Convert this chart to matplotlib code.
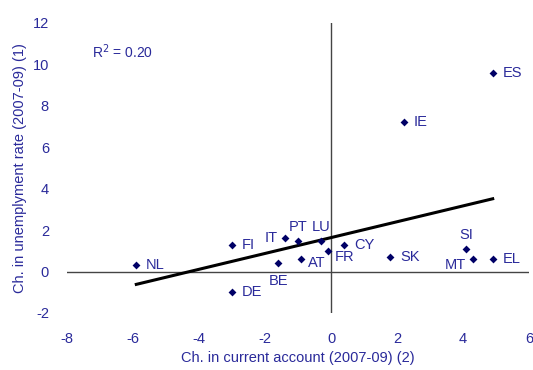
import numpy as np
import matplotlib
matplotlib.use("Agg")
import matplotlib.pyplot as plt
from matplotlib import font_manager

# Ch. in current account (x) and ch. in unemployment rate (y), 2007-09
countries = ["NL", "FI", "DE", "IT", "PT", "LU", "BE", "AT", "FR",
             "CY", "SK", "SI", "MT", "EL", "ES", "IE"]
current_account = [-5.9, -3.0, -3.0, -1.4, -1.0, -0.3, -1.6, -0.9, -0.1,
                   0.4, 1.8, 4.1, 4.3, 4.9, 4.9, 2.2]
unemployment = [0.3, 1.3, -1.0, 1.6, 1.5, 1.5, 0.4, 0.6, 1.0,
                1.3, 0.7, 1.1, 0.6, 0.6, 9.6, 7.2]
x_ticks = [-8, -6, -4, -2, 0, 2, 4, 6]
y_ticks = [-2, 0, 2, 4, 6, 8, 10, 12]

# label placement (offset in points, horizontal alignment, vertical alignment)
label_pos = {
    "IT": (-5, 0, "right", "center"),
    "PT": (0, 10, "center", "center"),
    "LU": (0, 10, "center", "center"),
    "BE": (0, -13, "center", "center"),
    "AT": (5, -3, "left", "center"),
    "FR": (5, -4.5, "left", "center"),
    "SI": (0, 10, "center", "center"),
    "MT": (-5, -4, "right", "center"),
}

names = [f.name for f in font_manager.fontManager.ttflist]
family = "Liberation Sans Narrow" if "Liberation Sans Narrow" in names else "Liberation Sans"
plt.rcParams["font.family"] = [family, "DejaVu Sans"]
plt.rcParams["axes.unicode_minus"] = False

text_col = "#2a2a9a"
marker_col = "#000066"
fs = 10.5

fig = plt.figure(figsize=(5.33, 3.70), dpi=100)
ax = fig.add_axes([67 / 533, 1 - 313 / 370, 462 / 533, 290 / 370])

ax.axhline(0, color="#444444", lw=1.0, zorder=1)
ax.axvline(0, color="#444444", lw=1.0, zorder=1)

ax.scatter(current_account, unemployment, marker="D", s=16, color=marker_col,
           linewidths=0, zorder=3)

x = np.array(current_account)
y = np.array(unemployment)
slope, intercept = np.polyfit(x, y, 1)
xs = np.array([x.min(), x.max()])
ax.plot(xs, slope * xs + intercept, color="black", lw=2.2, zorder=2)

for name, cx, cy in zip(countries, current_account, unemployment):
    dx, dy, ha, va = label_pos.get(name, (7, 0, "left", "center"))
    ax.annotate(name, (cx, cy), xytext=(dx, dy), textcoords="offset points",
                ha=ha, va=va, fontsize=fs, color=text_col)

ax.text(-7.25, 10.6, "R$^2$ = 0.20", fontsize=10, color=text_col,
        ha="left", va="center")

ax.set_xlim(-8, 6)
ax.set_ylim(-2, 12)
ax.set_xticks(x_ticks)
ax.set_yticks(y_ticks)
ax.tick_params(length=0, labelsize=fs, colors=text_col)
ax.tick_params(axis="x", pad=14)
ax.tick_params(axis="y", pad=13)
for s in ax.spines.values():
    s.set_visible(False)

ax.set_xlabel("Ch. in current account (2007-09) (2)", fontsize=fs, color=text_col,
              labelpad=3)
ax.set_ylabel("Ch. in unemplyment rate (2007-09) (1)", fontsize=fs, color=text_col,
              labelpad=4)

fig.savefig("out.png", dpi=100)
